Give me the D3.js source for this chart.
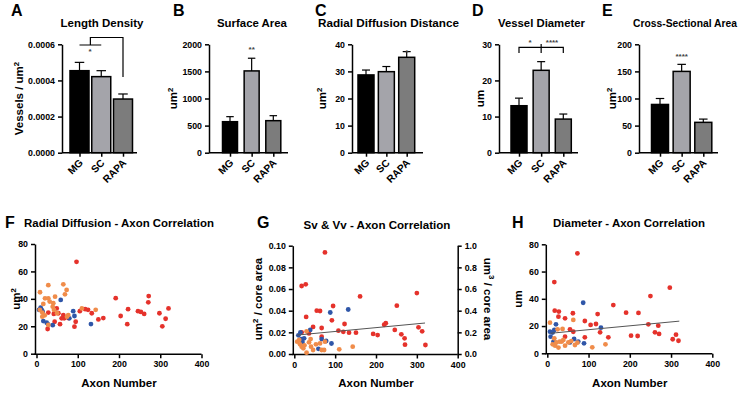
<!DOCTYPE html>
<html>
<head>
<meta charset="utf-8">
<script src="https://cdn.jsdelivr.net/npm/d3@7"></script>
<style>
  body { margin: 0; background: #fff; }
  svg { font-family: "Liberation Sans", Arial, sans-serif; font-weight: bold; }
</style>
</head>
<body>
<svg id="chart" width="740" height="406"></svg>
<script>
// ---- bar panel data ----
const cats = ['MG', 'SC', 'RAPA']
const barColors = ['#000000', '#a4a4aa', '#7c7c7c']

const lengthDensity = [0.000454, 0.000421, 0.000297]
const lengthDensitySem = [0.000046, 0.000033, 0.000028]
const surfaceArea = [572, 1509, 591]
const surfaceAreaSem = [93, 234, 92]
const radialDiffusion = [28.7, 29.9, 35.2]
const radialDiffusionSem = [1.8, 1.9, 2.1]
const vesselDiameter = [13.0, 22.8, 9.3]
const vesselDiameterSem = [2.1, 2.4, 1.4]
const crossSection = [89, 150, 56]
const crossSectionSem = [11, 13, 6]

// ---- scatter data: [axon number, value] ----
const rdRapa = [[97,67],[192,40.5],[272,42],[271,37.5],[320,33],[222,32.5],[246,31],[253,30.5],[261,29],[298,29.5],[313,25.5],[305,20],[220,21.5],[204,27.5],[162,26],[150,25],[134,29.5],[125,32],[118,32.5],[105,31],[95,23.3],[92,19.7],[77,26],[67,25.8],[65,28.2],[61,25.8],[57,21.5],[53,29.5],[49,33],[44,23.3],[42,29],[28.6,30],[27,18]]
const rdSc = [[8.5,44.8],[28.6,50],[65,50.6],[73,46.5],[69,43.3],[45,41.6],[20.6,40.4],[28.6,40.4],[40.7,36.8],[39.3,34.3],[42.4,31.9],[16.5,36.3],[14,30],[14,27],[8,32],[20,28],[110,33],[143.5,32],[77,28.2],[74,27],[28.6,21],[50,29.5],[32,38]]
const rdMg = [[58.7,39.2],[10,33.6],[12.6,32],[15,30.6],[16.5,23.8],[24.7,22.6],[39.3,20.8],[89,31],[92,27.5],[79.6,25.8],[132,21.6],[28,21.4],[6,32]]

const svRapa = [[75,0.0938],[18,0.0628],[28,0.0643],[29,0.0342],[55,0.040],[63,0.0397],[95,0.0443],[92,0.0311],[161,0.0532],[300,0.0563],[251,0.0446],[123,0.0277],[108,0.0215],[120,0.0205],[134,0.0197],[151,0.0197],[193,0.0185],[204,0.0175],[220,0.0270],[224,0.0284],[246,0.0222],[262,0.0182],[270,0.0145],[271,0.0086],[304,0.0246],[313,0.0209],[321,0.0083],[67,0.0240],[67,0.016],[46,0.0250],[18,0.02],[36,0.019]]
const svSc = [[7,0.0114],[30,0.0209],[14,0.0089],[18,0.0068],[22,0.0052],[40,0.0138],[41,0.0068],[46,0.0037],[53,0.0089],[63,0.0098],[67,0.0037],[73,0.0037],[75,0.0114],[110,0.0043],[143,0.0068],[30,0.0012],[36,0.0108],[12,0.013],[25,0.008]]
const svMg = [[88,0.0383],[132,0.0411],[39,0.0222],[10,0.0172],[15,0.02],[24,0.0145],[17,0.0136],[78,0.012],[91,0.0097],[59,0.0048],[67,0.0138],[20,0.011]]
const svFit = [[7, 0.0175], [320, 0.0286]]

const diRapa = [[73,73.4],[17,52.3],[18,31.3],[28,30.6],[62,29.4],[160,35.4],[191,29.8],[221,29.6],[250,42],[297,48.2],[122,28.8],[91,23.7],[105,20.8],[118,21.5],[128,15.4],[148,11.7],[203,12.9],[219,12.7],[245,21.3],[261,15.4],[271,14.2],[269,20.3],[304,10.3],[312,13.7],[318,9.2],[43,25.7],[55,17.6],[63,15.8],[91,11.7],[27,26.9],[43,12.2]]
const diMg = [[87,37.1],[130,18.8],[21,21.3],[6.5,15.9],[13,15.2],[17,17.1],[8,12.2],[15,8.6],[65,10.5],[89,7.3],[75,8.6],[55,8]]
const diSc = [[6.5,22.5],[63,24.5],[37,17.9],[25,17.6],[17,11],[13,6.6],[19,5.6],[27,4.2],[35,8.6],[43,5.6],[51,8],[67,6.1],[73,7.8],[109,4.4],[141,6.6],[39,9.8],[22,8],[30,8.5],[58,9]]
const diFit = [[8, 14.7], [320, 23.6]]

const red = '#e5322b', orange = '#f08c4a', blue = '#2f56a8'

const svg = d3.select('#chart')

function styleAxis(g) {
  g.selectAll('path, line').attr('stroke', '#000').attr('stroke-width', 1.5)
  g.selectAll('text').attr('font-size', 8.8).attr('font-weight', 'bold').attr('fill', '#000')
    .attr('font-family', '"Liberation Sans", Arial, sans-serif')
}

function supLabel(sel, base, sup, rest) {
  sel.append('tspan').text(base)
  if (sup) sel.append('tspan').attr('dy', -4.5).attr('font-size', '0.68em').text(sup)
  if (rest) sel.append('tspan').attr('dy', 4.5).text(rest)
}

function panelLetter(x, y, t) {
  svg.append('text').attr('x', x).attr('y', y).attr('font-size', 16).text(t)
}

// size the title so its width matches the reference
function title(g, x, y, w, t) {
  const el = g.append('text').attr('x', x).attr('y', y).attr('text-anchor', 'middle')
    .attr('font-size', 11).text(t)
  const len = el.node().getComputedTextLength()
  el.attr('font-size', 11 * w / len)
}

function barPanel(cfg) {
  const g = svg.append('g')
  const y = d3.scaleLinear().domain([0, cfg.max]).range([152.7, 44.3])
  const x = d3.scalePoint().domain(cats).range([cfg.centers[0], cfg.centers[1]])

  panelLetter(cfg.letterX, 16, cfg.letter)
  title(g, cfg.titleX, 27, cfg.titleW, cfg.title)

  g.append('g').attr('transform', `translate(${cfg.x0},0)`)
    .call(d3.axisLeft(y).tickValues(d3.range(0, cfg.max + cfg.step / 2, cfg.step)).tickSize(4).tickSizeOuter(0).tickFormat(cfg.fmt))
    .call(styleAxis)

  const bw = cfg.bw
  g.selectAll('rect.bar').data(cfg.values).join('rect')
    .attr('x', (d, i) => x(cats[i]) - bw / 2)
    .attr('y', d => y(d))
    .attr('width', bw)
    .attr('height', d => y(0) - y(d))
    .attr('fill', (d, i) => barColors[i])
    .attr('stroke', '#000').attr('stroke-width', 1.5)

  // SEM, upper side only
  const eb = g.selectAll('g.err').data(cfg.values).join('g')
  eb.append('line')
    .attr('x1', (d, i) => x(cats[i])).attr('x2', (d, i) => x(cats[i]))
    .attr('y1', d => y(d)).attr('y2', (d, i) => y(d + cfg.sem[i]))
    .attr('stroke', '#000').attr('stroke-width', 1.2)
  eb.append('line')
    .attr('x1', (d, i) => x(cats[i]) - bw / 4).attr('x2', (d, i) => x(cats[i]) + bw / 4)
    .attr('y1', (d, i) => y(d + cfg.sem[i])).attr('y2', (d, i) => y(d + cfg.sem[i]))
    .attr('stroke', '#000').attr('stroke-width', 1.2)

  const xa = g.append('g').attr('transform', 'translate(0,152.7)')
    .call(d3.axisBottom(x).tickSize(4).tickSizeOuter(0).tickFormat(''))
    .call(styleAxis)
  xa.select('.domain').remove()
  xa.append('line').attr('x1', cfg.x0).attr('x2', cfg.x1).attr('stroke', '#000').attr('stroke-width', 1.5)

  // slanted category labels
  g.selectAll('text.cat').data(cats).join('text')
    .attr('class', 'cat')
    .attr('font-size', 10.2)
    .attr('text-anchor', 'end')
    .attr('transform', d => `translate(${x(d) + 4},${163.5}) rotate(-45)`)
    .text(d => d)

  const yl = g.append('text').attr('text-anchor', 'middle').attr('font-size', 11.5)
    .attr('transform', `translate(${cfg.ylabX},98.5) rotate(-90)`)
  supLabel(yl, cfg.ylab[0], cfg.ylab[1], cfg.ylab[2])

  ;(cfg.stars || []).forEach(s => {
    g.append('text').attr('x', typeof s.at === 'string' ? x(s.at) + (s.dx || 0) : s.at)
      .attr('y', s.y).attr('text-anchor', 'middle').attr('font-size', 8).attr('fill', '#444').text(s.t)
  })
  ;(cfg.brackets || []).forEach(b => {
    g.append('path').attr('d', b(x, y)).attr('fill', 'none').attr('stroke', '#000').attr('stroke-width', 1.2)
  })
  return g
}

barPanel({
  letter: 'A', letterX: 11, title: 'Length Density', titleX: 102, titleW: 83,
  x0: 62, x1: 137, centers: [79.5, 123], bw: 19,
  max: 0.0006, step: 0.0002, fmt: d3.format('.4f'),
  values: lengthDensity, sem: lengthDensitySem,
  ylab: ['Vessels / um', '2'], ylabX: 23,
  stars: [{ at: 90, y: 54, t: '*' }],
  brackets: [(x, y) => `M${x('MG')},45 H${x('SC')} M${(x('MG') + x('SC')) / 2},45 V37.5 H${x('RAPA')} V77`]
})

barPanel({
  letter: 'B', letterX: 173, title: 'Surface Area', titleX: 252, titleW: 70,
  x0: 209, x1: 288, centers: [230, 273.3], bw: 15,
  max: 2000, step: 500, fmt: d3.format('d'),
  values: surfaceArea, sem: surfaceAreaSem,
  ylab: ['um', '2'], ylabX: 177,
  stars: [{ at: 'SC', y: 52, t: '**' }]
})

barPanel({
  letter: 'C', letterX: 315, title: 'Radial Diffusion Distance', titleX: 388.5, titleW: 141,
  x0: 352, x1: 423, centers: [366, 406.7], bw: 16,
  max: 40, step: 10, fmt: d3.format('d'),
  values: radialDiffusion, sem: radialDiffusionSem,
  ylab: ['um', '2'], ylabX: 326,
  stars: [{ at: 'RAPA', y: 55, t: '*' }]
})

barPanel({
  letter: 'D', letterX: 472, title: 'Vessel Diameter', titleX: 541.5, titleW: 87,
  x0: 499, x1: 578, centers: [519, 563.3], bw: 16,
  max: 30, step: 10, fmt: d3.format('d'),
  values: vesselDiameter, sem: vesselDiameterSem,
  ylab: ['um', ''], ylabX: 484,
  stars: [{ at: 530, y: 45, t: '*' }, { at: 552, y: 45, t: '****' }],
  brackets: [(x, y) => `M${x('MG')},53 V47.3 H${x('SC')} V53 M${x('SC')},47.3 H${x('RAPA')} V53 M${x('SC')},47.3 V44`]
})

barPanel({
  letter: 'E', letterX: 602, title: 'Cross-Sectional Area', titleX: 685, titleW: 104,
  x0: 639, x1: 718, centers: [660, 703.3], bw: 17,
  max: 200, step: 50, fmt: d3.format('d'),
  values: crossSection, sem: crossSectionSem,
  ylab: ['um', '2'], ylabX: 616,
  stars: [{ at: 'SC', y: 59, t: '****' }]
})

function scatterPanel(cfg) {
  const g = svg.append('g')
  const x = d3.scaleLinear().domain([0, 400]).range(cfg.xr)
  const y = d3.scaleLinear().domain([0, cfg.max]).range(cfg.yr)

  panelLetter(cfg.letterX, 228, cfg.letter)
  title(g, cfg.titleX, cfg.titleY, cfg.titleW, cfg.title)

  g.append('g').attr('transform', `translate(${cfg.xr[0] - 1.5},0)`)
    .call(d3.axisLeft(y).ticks(5).tickSize(4).tickSizeOuter(0).tickFormat(cfg.fmt))
    .call(styleAxis)
  g.append('g').attr('transform', `translate(0,${cfg.yr[0] + 0.5})`)
    .call(d3.axisBottom(x).tickValues([0, 100, 200, 300, 400]).tickSize(4).tickSizeOuter(0))
    .call(styleAxis)
    .call(a => a.select('.domain').attr('d', `M${cfg.xr[0] - 2.2},0H${cfg.xr[1]}`))

  if (cfg.right) {
    const y2 = d3.scaleLinear().domain([0, cfg.right.max]).range(cfg.yr)
    g.append('g').attr('transform', `translate(${cfg.xr[1]},0)`)
      .call(d3.axisRight(y2).ticks(5).tickSize(4).tickSizeOuter(0).tickFormat(cfg.right.fmt))
      .call(styleAxis)
    const rl = g.append('text').attr('text-anchor', 'middle').attr('font-size', 11.5)
      .attr('transform', `translate(${cfg.right.labX},299) rotate(90)`)
    supLabel(rl, 'um', '3', ' / core area')
  }

  g.append('text').attr('x', (cfg.xr[0] + cfg.xr[1]) / 2).attr('y', 387).attr('text-anchor', 'middle')
    .attr('font-size', 11.5).text('Axon Number')
  const yl = g.append('text').attr('text-anchor', 'middle').attr('font-size', 11.5)
    .attr('transform', `translate(${cfg.ylabX},299) rotate(-90)`)
  supLabel(yl, cfg.ylab[0], cfg.ylab[1], cfg.ylab[2])

  cfg.groups.forEach(([pts, col]) => {
    g.append('g').selectAll('circle').data(pts).join('circle')
      .attr('cx', d => x(d[0])).attr('cy', d => y(d[1])).attr('r', 2.4).attr('fill', col)
  })

  if (cfg.fit) {
    g.append('path').datum(cfg.fit)
      .attr('d', d3.line().x(d => x(d[0])).y(d => y(d[1])))
      .attr('stroke', '#555').attr('stroke-width', 1).attr('fill', 'none')
  }
}

scatterPanel({
  letter: 'F', letterX: 5, title: 'Radial Diffusion - Axon Correlation', titleX: 119, titleY: 227, titleW: 190,
  xr: [36.5, 201.5], yr: [353.7, 244], max: 80, fmt: d3.format('d'),
  ylab: ['um', '2'], ylabX: 20,
  groups: [[rdRapa, red], [rdMg, blue], [rdSc, orange]]
})

scatterPanel({
  letter: 'G', letterX: 257, title: 'Sv & Vv - Axon Correlation', titleX: 377, titleY: 229, titleW: 147,
  xr: [294.3, 457.7], yr: [354, 245.7], max: 0.1, fmt: d3.format('.2f'),
  ylab: ['um', '2', ' / core area'], ylabX: 262,
  right: { max: 1, fmt: d3.format('.1f'), labX: 484 },
  groups: [[svRapa, red], [svMg, blue], [svSc, orange]],
  fit: svFit
})

scatterPanel({
  letter: 'H', letterX: 512, title: 'Diameter - Axon Correlation', titleX: 629, titleY: 227, titleW: 152,
  xr: [547.3, 712.3], yr: [353.3, 244.3], max: 80, fmt: d3.format('d'),
  ylab: ['um', ''], ylabX: 522,
  groups: [[diRapa, red], [diMg, blue], [diSc, orange]],
  fit: diFit
})
</script>
</body>
</html>
